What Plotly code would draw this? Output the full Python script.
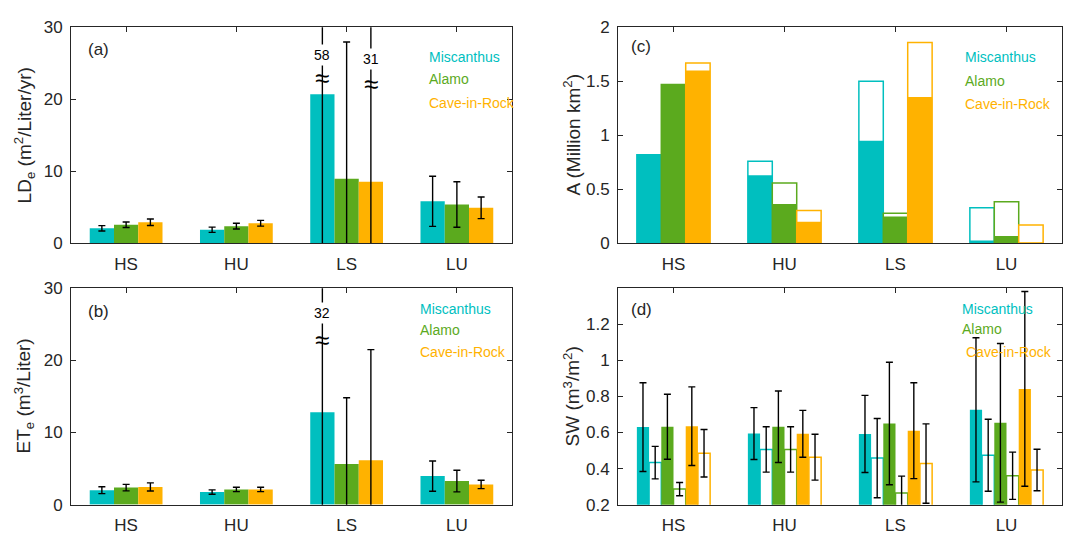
import plotly.graph_objects as go

# ---------------- data ----------------
categories = ["HS", "HU", "LS", "LU"]
species = ["Miscanthus", "Alamo", "Cave-in-Rock"]

# (a) LDe (m2/Liter/yr)
lde_mis = [2.1, 1.9, 20.7, 5.85]
lde_mis_err = [0.38, 0.36, 37.3, 3.48]
lde_ala = [2.6, 2.4, 8.97, 5.4]
lde_ala_err = [0.38, 0.40, 19.0, 3.16]
lde_cav = [2.95, 2.8, 8.57, 4.95]
lde_cav_err = [0.45, 0.40, 22.4, 1.5]

# (b) ETe (m3/Liter)
ete_mis = [2.0, 1.74, 12.8, 3.96]
ete_mis_err = [0.48, 0.30, 19.2, 2.1]
ete_ala = [2.36, 2.1, 5.65, 3.27]
ete_ala_err = [0.45, 0.30, 9.17, 1.5]
ete_cav = [2.45, 2.1, 6.14, 2.8]
ete_cav_err = [0.56, 0.30, 15.35, 0.58]

# (c) A (Million km2): open = total outline, solid = filled part
area_mis_open = [0.82, 0.76, 1.50, 0.33]
area_mis_solid = [0.82, 0.63, 0.95, 0.027]
area_ala_open = [1.47, 0.56, 0.28, 0.385]
area_ala_solid = [1.47, 0.365, 0.25, 0.07]
area_cav_open = [1.67, 0.305, 1.86, 0.17]
area_cav_solid = [1.60, 0.20, 1.355, 0.005]

# (d) SW (m3/m2)
sw_mis_solid = [0.63, 0.594, 0.592, 0.726]
sw_mis_solid_err = [0.246, 0.144, 0.214, 0.40]
sw_mis_open = [0.433, 0.506, 0.458, 0.474]
sw_mis_open_err = [0.09, 0.126, 0.22, 0.20]
sw_ala_solid = [0.632, 0.632, 0.65, 0.654]
sw_ala_solid_err = [0.18, 0.198, 0.34, 0.44]
sw_ala_open = [0.286, 0.506, 0.265, 0.36]
sw_ala_open_err = [0.037, 0.126, 0.093, 0.131]
sw_cav_solid = [0.635, 0.593, 0.61, 0.842]
sw_cav_solid_err = [0.218, 0.13, 0.266, 0.54]
sw_cav_open = [0.485, 0.463, 0.428, 0.392]
sw_cav_open_err = [0.132, 0.127, 0.22, 0.115]

# ---------------- style ----------------
COLORS = ["#00BFBF", "#5BAA1E", "#FFB200"]
AXC = "#262626"
FONT = "Liberation Sans, Arial, Helvetica, sans-serif"
W3 = 0.22
W6 = 0.11

fig = go.Figure()


def err(vals):
    return dict(type="data", array=vals, visible=True, color="black",
                thickness=1.4, width=3.5)


def add_solid(y, e, color, offset, width, xa, ya):
    fig.add_trace(go.Bar(
        x=categories, y=y, offset=offset, width=width,
        marker=dict(color=color, line=dict(width=0)),
        error_y=err(e) if e is not None else None,
        xaxis=xa, yaxis=ya, showlegend=False, hoverinfo="y"))


def add_open(y, e, color, offset, width, xa, ya):
    fig.add_trace(go.Bar(
        x=categories, y=y, offset=offset, width=width,
        marker=dict(color="white", line=dict(width=1.5, color=color)),
        error_y=err(e) if e is not None else None,
        xaxis=xa, yaxis=ya, showlegend=False, hoverinfo="y"))


# (a)
for k, (v, e) in enumerate([(lde_mis, lde_mis_err), (lde_ala, lde_ala_err), (lde_cav, lde_cav_err)]):
    add_solid(v, e, COLORS[k], -0.33 + k * W3, W3, "x", "y")
# (b)
for k, (v, e) in enumerate([(ete_mis, ete_mis_err), (ete_ala, ete_ala_err), (ete_cav, ete_cav_err)]):
    add_solid(v, e, COLORS[k], -0.33 + k * W3, W3, "x2", "y2")
# (c)
for k, (vo, vs) in enumerate([(area_mis_open, area_mis_solid), (area_ala_open, area_ala_solid),
                              (area_cav_open, area_cav_solid)]):
    add_open(vo, None, COLORS[k], -0.33 + k * W3, W3, "x3", "y3")
    add_solid(vs, None, COLORS[k], -0.33 + k * W3, W3, "x3", "y3")
# (d)
d_sets = [(sw_mis_solid, sw_mis_solid_err, sw_mis_open, sw_mis_open_err),
          (sw_ala_solid, sw_ala_solid_err, sw_ala_open, sw_ala_open_err),
          (sw_cav_solid, sw_cav_solid_err, sw_cav_open, sw_cav_open_err)]
for k, (vs, es, vo, eo) in enumerate(d_sets):
    add_solid(vs, es, COLORS[k], -0.33 + (2 * k) * W6, W6, "x4", "y4")
    add_open(vo, eo, COLORS[k], -0.33 + (2 * k + 1) * W6, W6, "x4", "y4")

# ---------------- axes ----------------
Wpx, Hpx = 1068, 540
xl_left = [71 / Wpx, 512 / Wpx]
xl_right = [618 / Wpx, 1062 / Wpx]
yd_top = [1 - 243 / Hpx, 1 - 19 / Hpx]
yd_bot = [1 - 513.7 / Hpx, 1 - 289.5 / Hpx]

common = dict(showline=True, linecolor=AXC, linewidth=1, showgrid=False, zeroline=False,
              tickfont=dict(family=FONT, size=17, color=AXC), tickcolor=AXC, ticklen=5)


def xax(domain, anchor):
    return dict(common, domain=domain, anchor=anchor, type="category",
                categoryorder="array", categoryarray=categories,
                range=[-0.5, 3.5], ticks="", ticklen=0, mirror=True,
                ticklabelstandoff=5)


def xtop(domain, anchor, overlay):
    return dict(domain=domain, anchor=anchor, overlaying=overlay, side="top",
                range=[-0.5, 3.5], tickvals=[0, 1, 2, 3], ticks="inside",
                ticklen=5, tickcolor=AXC, showticklabels=False, showline=False,
                showgrid=False, zeroline=False)


def yax(domain, anchor, rng, tickvals):
    return dict(common, domain=domain, anchor=anchor, range=rng, tickvals=tickvals,
                ticks="inside", mirror="ticks", ticklabelstandoff=4)


fig.update_layout(
    width=Wpx, height=Hpx, margin=dict(l=0, r=0, t=0, b=0),
    paper_bgcolor="white", plot_bgcolor="white", barmode="overlay",
    font=dict(family=FONT, color=AXC),
    xaxis=xax(xl_left, "y"), yaxis=yax(yd_top, "x", [0, 30], [0, 10, 20, 30]),
    xaxis2=xax(xl_left, "y2"), yaxis2=yax(yd_bot, "x2", [0, 30], [0, 10, 20, 30]),
    xaxis3=xax(xl_right, "y3"), yaxis3=yax(yd_top, "x3", [0, 2], [0, 0.5, 1, 1.5, 2]),
    xaxis4=xax(xl_right, "y4"), yaxis4=yax(yd_bot, "x4", [0.2, 1.4], [0.2, 0.4, 0.6, 0.8, 1.0, 1.2]),
    xaxis5=xtop(xl_left, "y", "x"),
    xaxis6=xtop(xl_left, "y2", "x2"),
    xaxis7=xtop(xl_right, "y3", "x3"),
    xaxis8=xtop(xl_right, "y4", "x4"),
)
# dummy traces to activate the top tick axes
for xa, ya in [("x5", "y"), ("x6", "y2"), ("x7", "y3"), ("x8", "y4")]:
    fig.add_trace(go.Scatter(x=[None], y=[None], xaxis=xa, yaxis=ya, showlegend=False,
                             hoverinfo="skip"))

ann = []

# y-axis titles
ytitles = [
    ("LD<sub>e</sub> (m<sup>2</sup>/Liter/yr)", 24 / Wpx, "y domain"),
    ("ET<sub>e</sub> (m<sup>3</sup>/Liter)", 24 / Wpx, "y2 domain"),
    ("A (Million km<sup>2</sup>)", 572 / Wpx, "y3 domain"),
    ("SW (m<sup>3</sup>/m<sup>2</sup>)", 572 / Wpx, "y4 domain"),
]
for txt, xp, yr in ytitles:
    ann.append(dict(text=txt, x=xp, y=0.5, xref="paper", yref=yr, textangle=-90,
                    showarrow=False, xanchor="center", yanchor="middle",
                    font=dict(family=FONT, size=19, color=AXC)))

# panel labels
for lab, xr, yr, xp, yp in [("(a)", "x domain", "y domain", 0.034, 0.897),
                            ("(b)", "x2 domain", "y2 domain", 0.034, 0.894),
                            ("(c)", "x3 domain", "y3 domain", 0.025, 0.911),
                            ("(d)", "x4 domain", "y4 domain", 0.025, 0.902)]:
    ann.append(dict(text=lab, x=xp, y=yp, xref=xr, yref=yr, showarrow=False,
                    xanchor="left", yanchor="middle",
                    font=dict(family=FONT, size=17, color=AXC)))

# species labels
leg_pos = [
    ("x domain", "y domain", [(0.807, 0.862), (0.807, 0.763), (0.807, 0.652)]),
    ("x2 domain", "y2 domain", [(0.787, 0.905), (0.787, 0.805), (0.787, 0.704)]),
    ("x3 domain", "y3 domain", [(0.777, 0.862), (0.777, 0.750), (0.777, 0.647)]),
    ("x4 domain", "y4 domain", [(0.770, 0.903), (0.770, 0.812), (0.779, 0.705)]),
]
for xr, yr, pos in leg_pos:
    for k, (xp, yp) in enumerate(pos):
        ann.append(dict(text=species[k], x=xp, y=yp, xref=xr, yref=yr, showarrow=False,
                        xanchor="left", yanchor="middle",
                        font=dict(family=FONT, size=14, color=COLORS[k])))

# break markers for off-scale error bars
breaks = [
    ("x", "y", 2 - W3, "58", 26.1, 22.9),
    ("x", "y", 2 + W3, "31", 25.6, 22.1),
    ("x2", "y2", 2 - W3, "32", 26.6, 22.9),
]
for xr, yr, xp, lab, ylab, yapp in breaks:
    ann.append(dict(text=lab, x=xp, y=ylab, xref=xr, yref=yr, showarrow=False,
                    bgcolor="white", borderpad=2, xanchor="center", yanchor="middle",
                    font=dict(family=FONT, size=14, color="black")))
    ann.append(dict(text="≈", x=xp, y=yapp, xref=xr, yref=yr, showarrow=False,
                    xanchor="center", yanchor="middle",
                    font=dict(family=FONT, size=26, color="black")))

fig.update_layout(annotations=ann)
fig.write_html("out.html", config={"displayModeBar": False},
               post_script="document.body.style.margin='0';document.body.style.padding='0';")
